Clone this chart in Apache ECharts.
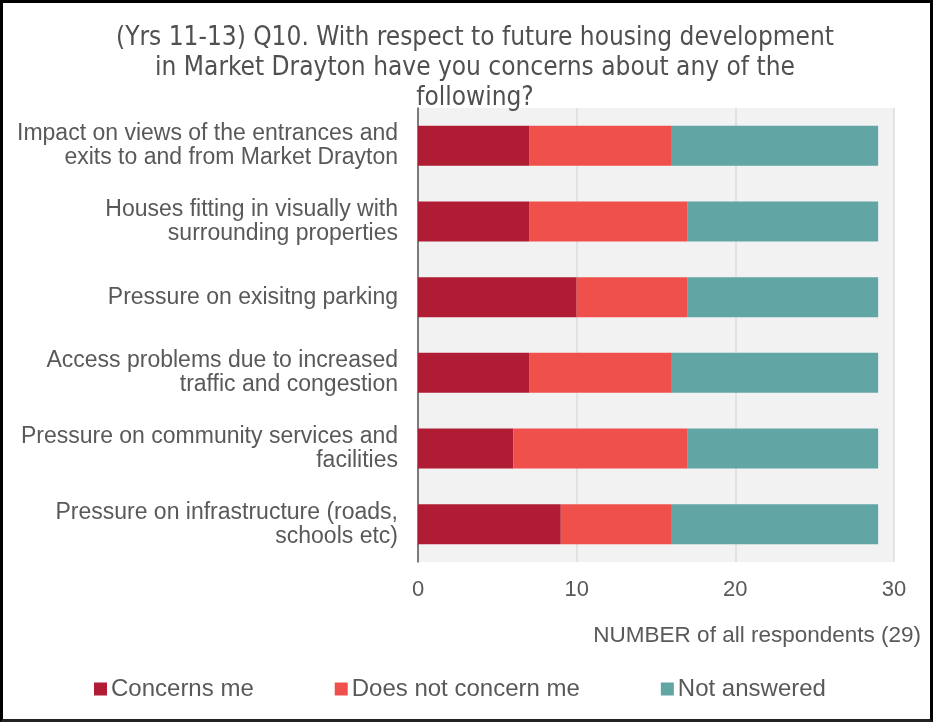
<!DOCTYPE html>
<html>
<head>
<meta charset="utf-8">
<script src="https://cdn.jsdelivr.net/npm/echarts@6/dist/echarts.min.js"></script>
<style>
html,body{margin:0;padding:0;background:#fff;}
#wrap{position:absolute;left:0;top:0;width:933px;height:722px;box-sizing:border-box;border:3px solid #000;border-bottom-color:#222;}
#chart{position:absolute;left:0;top:0;width:933px;height:722px;}
</style>
</head>
<body>
<div id="chart"></div>
<div id="wrap"></div>
<script>
const categories = [
  'Impact on views of the entrances and\nexits to and from Market Drayton',
  'Houses fitting in visually with\nsurrounding properties',
  'Pressure on exisitng parking',
  'Access problems due to increased\ntraffic and congestion',
  'Pressure on community services and\nfacilities',
  'Pressure on infrastructure (roads,\nschools etc)'
];
const concernsMe = [7, 7, 10, 7, 6, 9];
const doesNotConcern = [9, 10, 7, 9, 11, 7];
const notAnswered = [13, 12, 12, 13, 12, 13];
const seriesNames = ['Concerns me', 'Does not concern me', 'Not answered'];
const colors = ['#b01c34', '#f0504c', '#62a5a5'];

const chart = echarts.init(document.getElementById('chart'), null, {renderer: 'canvas'});
const txt = '#595959';
const font = 'Liberation Sans, Arial, sans-serif';
chart.setOption({
  animation: false,
  backgroundColor: '#fff',
  title: [{
    text: '(Yrs 11-13) Q10. With respect to future housing development\nin Market Drayton have you concerns about any of the\nfollowing?',
    left: 470, top: 18, textAlign: 'center',
    textStyle: {fontFamily: 'DejaVu Sans Condensed, Liberation Sans, sans-serif', fontSize: 26, fontWeight: 'normal', color: '#505050', lineHeight: 30}
  }, {
    text: 'NUMBER of all respondents (29)',
    right: 7, top: 619,
    textStyle: {fontFamily: font, fontSize: 22.5, fontWeight: 'normal', color: txt}
  }],
  legend: {
    data: seriesNames,
    left: 89, top: 672,
    itemWidth: 13, itemHeight: 13, itemGap: 81,
    icon: 'rect',
    textStyle: {fontFamily: font, fontSize: 24, color: txt, padding: [0, 0, 0, -1]}
  },
  grid: {left: 418, right: 39, top: 108, bottom: 160, containLabel: false, show: true, backgroundColor: '#f2f2f2', borderWidth: 0},
  xAxis: {
    type: 'value', min: 0, max: 30, interval: 10,
    axisLine: {show: false}, axisTick: {show: false},
    splitLine: {show: true, lineStyle: {color: '#dcdcdc', width: 1.5}},
    axisLabel: {fontFamily: font, fontSize: 22, color: txt, margin: 17}
  },
  yAxis: {
    type: 'category', data: categories, inverse: true,
    axisLine: {show: true, lineStyle: {color: '#595959', width: 1.5}},
    axisTick: {show: false},
    axisLabel: {fontFamily: font, fontSize: 23, color: txt, lineHeight: 24, margin: 20, align: 'right'}
  },
  series: [
    {name: seriesNames[0], type: 'bar', stack: 'a', data: concernsMe, barWidth: 40, itemStyle: {color: colors[0]}},
    {name: seriesNames[1], type: 'bar', stack: 'a', data: doesNotConcern, barWidth: 40, itemStyle: {color: colors[1]}},
    {name: seriesNames[2], type: 'bar', stack: 'a', data: notAnswered, barWidth: 40, itemStyle: {color: colors[2]}}
  ]
});
</script>
</body>
</html>
